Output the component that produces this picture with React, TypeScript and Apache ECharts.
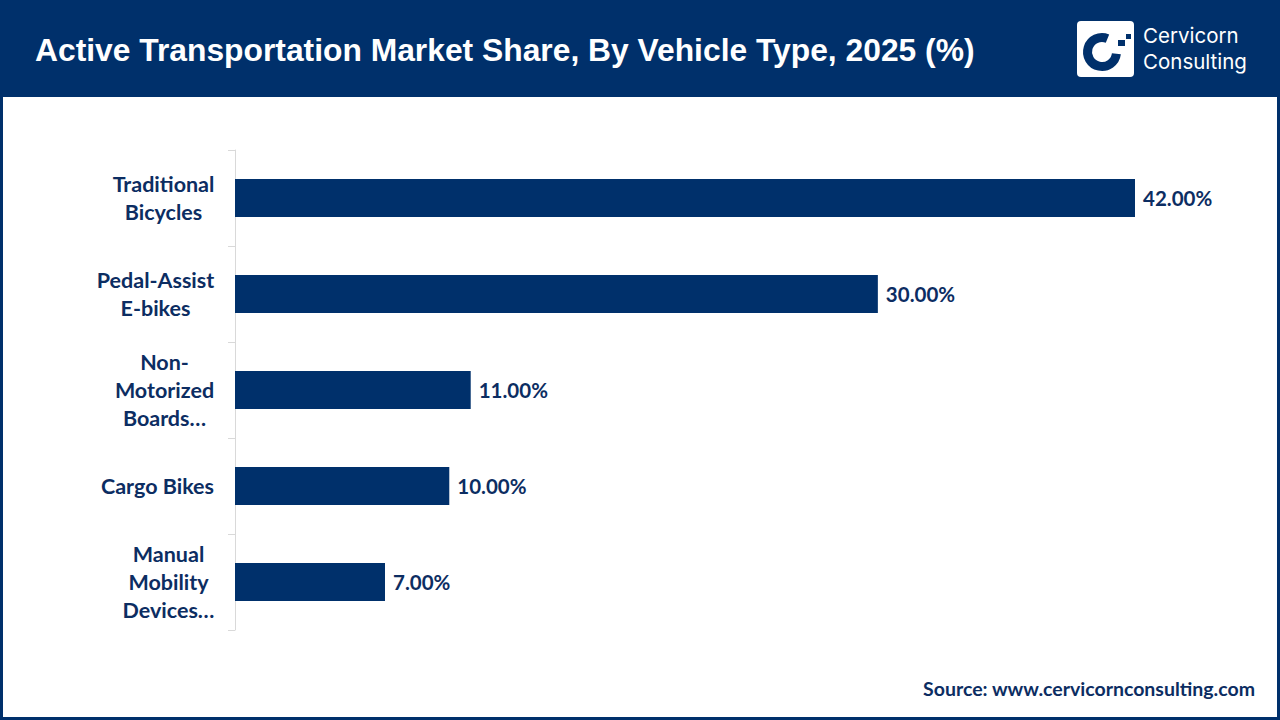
import React, { useEffect, useRef } from "react";
import * as echarts from "echarts";

const title = "Active Transportation Market Share, By Vehicle Type, 2025 (%)";
const categories = [
  "Traditional\nBicycles",
  "Pedal-Assist\nE-bikes",
  "Non-\nMotorized\nBoards…",
  "Cargo Bikes",
  "Manual\nMobility\nDevices…",
];
const values = [42, 30, 11, 10, 7];
const sourceText = "Source: www.cervicornconsulting.com";
const brandLines = ["Cervicorn", "Consulting"];

const NAVY = "#00306b";
const TEXT = "#0c2d62";
const LABEL_FONT = "Lato";
const CAT_SIZE = 21.5;

export default function App() {
  const ref = useRef<HTMLDivElement>(null);
  useEffect(() => {
    if (!ref.current) return;
    const chart = echarts.init(ref.current, null, { renderer: "svg" });

    const cv = document.createElement("canvas").getContext("2d")!;
    cv.font = `bold ${CAT_SIZE}px ${LABEL_FONT}`;
    const rich: Record<string, any> = {};
    categories.forEach((c, i) => {
      const w = Math.max(...c.split("\n").map((l) => cv.measureText(l).width));
      rich["l" + i] = {
        width: Math.ceil(w) + 1,
        align: "center",
        fontFamily: LABEL_FONT,
        fontWeight: "bold",
        fontSize: CAT_SIZE,
        lineHeight: 28,
        color: TEXT,
      };
    });

    chart.setOption({
      animation: false,
      grid: { left: 235, top: 150, height: 480, width: (900 / 42) * 45 },
      xAxis: { type: "value", min: 0, max: 45, show: false },
      yAxis: {
        type: "category",
        inverse: true,
        data: categories,
        axisLine: { show: true, lineStyle: { color: "#d9d9d9", width: 1 } },
        axisTick: { show: true, length: 7, lineStyle: { color: "#d9d9d9" } },
        axisLabel: {
          margin: 20,
          align: "right",
          formatter: (v: string, idx: number) =>
            v
              .split("\n")
              .map((l) => `{l${idx}|${l}}`)
              .join("\n"),
          rich,
        },
        splitLine: { show: false },
      },
      series: [
        {
          type: "bar",
          data: values,
          barWidth: 38,
          itemStyle: { color: NAVY },
          label: {
            show: true,
            position: "right",
            distance: 8,
            formatter: (p: any) => `${Number(p.value).toFixed(2)}%`,
            fontFamily: LABEL_FONT,
            fontWeight: "bold",
            fontSize: 20.5,
            color: TEXT,
          },
        },
      ],
      graphic: [
        { type: "rect", shape: { x: 0, y: 0, width: 1280, height: 97 }, style: { fill: NAVY } },
        {
          type: "rect",
          shape: { x: 1.5, y: 1.5, width: 1277, height: 717 },
          style: { fill: "none", stroke: NAVY, lineWidth: 3 },
        },
        {
          type: "text",
          x: 35,
          y: 50,
          style: {
            text: title,
            fill: "#ffffff",
            font: "bold 31.8px 'Liberation Sans', Arial, sans-serif",
            verticalAlign: "middle",
          },
        },
        {
          type: "rect",
          shape: { x: 1077, y: 21, width: 57, height: 56, r: 4 },
          style: { fill: "#ffffff" },
        },
        {
          type: "arc",
          shape: { cx: 1102, cy: 52, r: 14.5, startAngle: 0.12, endAngle: 5.1, clockwise: true },
          style: { stroke: NAVY, lineWidth: 9, fill: "none" },
        },
        { type: "rect", shape: { x: 1118, y: 40, width: 7, height: 6 }, style: { fill: NAVY } },
        { type: "rect", shape: { x: 1126, y: 34, width: 5, height: 5 }, style: { fill: NAVY } },
        {
          type: "text",
          x: 1143,
          y: 35.5,
          style: { text: brandLines[0], fill: "#ffffff", font: "20.5px Inter, sans-serif", verticalAlign: "middle" },
        },
        {
          type: "text",
          x: 1143,
          y: 61,
          style: { text: brandLines[1], fill: "#ffffff", font: "20.5px Inter, sans-serif", verticalAlign: "middle" },
        },
        {
          type: "text",
          x: 1255,
          y: 688,
          style: {
            text: sourceText,
            fill: TEXT,
            font: `bold 19.5px ${LABEL_FONT}`,
            align: "right",
            verticalAlign: "middle",
          },
        },
      ],
    });
    return () => chart.dispose();
  }, []);
  return (
    <div
      ref={ref}
      style={{ position: "fixed", left: 0, top: 0, width: 1280, height: 720, background: "#fff" }}
    />
  );
}
